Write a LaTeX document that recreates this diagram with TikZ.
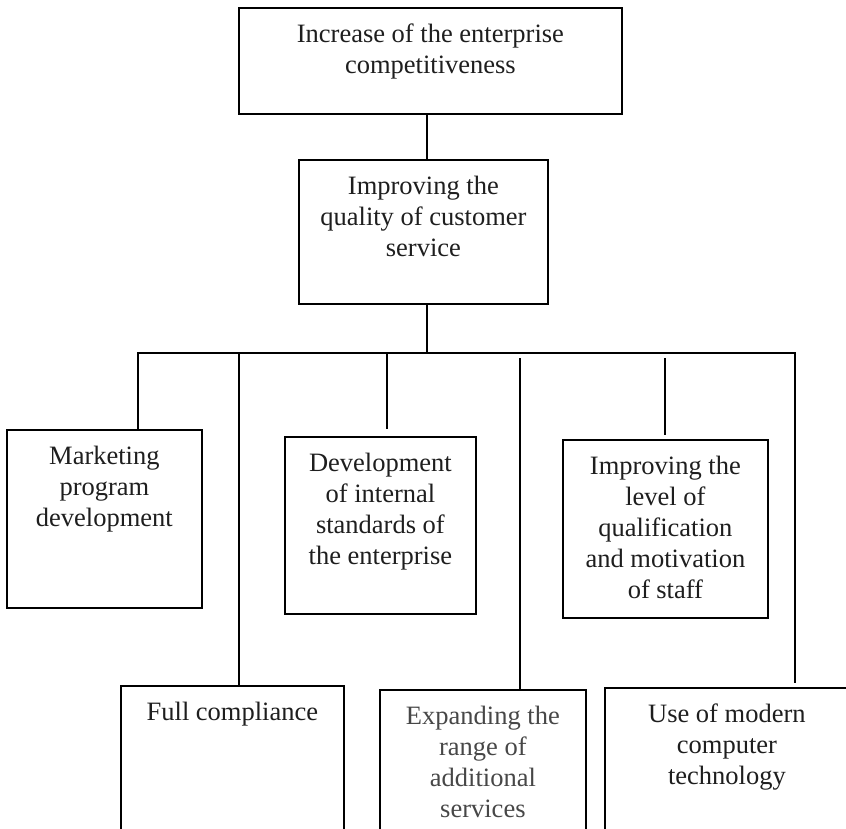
\documentclass[tikz,border=0pt]{standalone}
\usepackage{fontspec}
\setmainfont{Liberation Serif}
\usepackage{xcolor}
\usepackage{tikz}
\definecolor{inktext}{HTML}{1E1E1E}
\definecolor{paletext}{HTML}{474747}
% text of a box: width, height, lines (top aligned)
\newcommand{\boxtxt}[3]{\parbox[c][#2][t]{#1}{\centering\vspace{13.3pt}\strut #3}}
\tikzset{
    blk/.style = {rectangle, draw=black, line width=1.8pt, inner sep=0pt, anchor=north west,
                  text=inktext, font=\fontsize{26.5}{31}\selectfont},
    pale/.style = {blk, text=paletext},
    wire/.style = {draw=black, line width=1.8pt}
}
\begin{document}
\begin{tikzpicture}[x=1pt, y=-1pt]
    \useasboundingbox (0,0) rectangle (846,829);
    \clip (0,0) rectangle (846,829);

    % upper levels
    \node [blk] (top)  at (238,7)   {\boxtxt{383pt}{106pt}{Increase of the enterprise\\ competitiveness}};
    \node [blk] (qual) at (298,159) {\boxtxt{249pt}{144pt}{Improving the\\ quality of customer\\ service}};

    % middle row
    \node [blk] (mkt) at (6,429)   {\boxtxt{195pt}{178pt}{Marketing\\ program\\ development}};
    \node [blk] (dev) at (284,436) {\boxtxt{191pt}{177pt}{Development\\ of internal\\ standards of\\ the enterprise}};
    \node [blk] (imp) at (562,439) {\boxtxt{205pt}{178pt}{Improving the\\ level of\\ qualification\\ and motivation\\ of staff}};

    % bottom row, cut off by the page
    \node [blk]  (full) at (120,685) {\boxtxt{223pt}{220pt}{Full compliance}};
    \node [pale] (exp)  at (379,689) {\boxtxt{206pt}{220pt}{Expanding the\\ range of\\ additional\\ services}};
    \node [blk]  (use)  at (604,687) {\boxtxt{244pt}{220pt}{Use of modern\\ computer\\ technology}};

    \coordinate (hub) at (427,353);
    \coordinate (b1) at (138,353);
    \coordinate (b2) at (239,353);
    \coordinate (b3) at (387,353);
    \coordinate (b4) at (520,353);
    \coordinate (b5) at (665,353);
    \coordinate (b6) at (795,353);

    \draw [wire] (top.south -| hub) -- (qual.north -| hub);
    \draw [wire] (qual.south -| hub) -- (hub);
    \draw [wire, shorten >=4pt] (b1 |- mkt.north) -- (b1) -- (b6) -- (b6 |- use.north);
    \draw [wire] (b2) -- (b2 |- full.north);
    \draw [wire, shorten >=7pt] (b3) -- (b3 |- dev.north);
    \draw [wire, shorten <=5pt] (b4) -- (b4 |- exp.north);
    \draw [wire, shorten <=5pt, shorten >=4pt] (b5) -- (b5 |- imp.north);
\end{tikzpicture}
\end{document}
